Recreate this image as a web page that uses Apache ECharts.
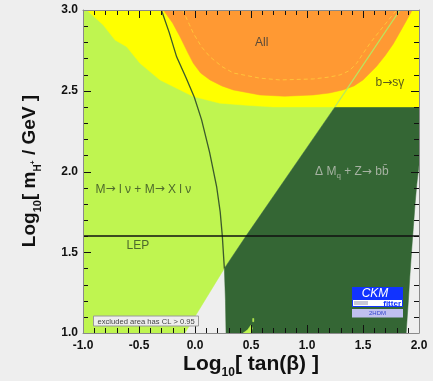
<!DOCTYPE html>
<html>
<head>
<meta charset="utf-8">
<script src="https://cdn.jsdelivr.net/npm/echarts@6/dist/echarts.min.js"></script>
<style>
  html, body { margin: 0; padding: 0; background: #eeeeee; }
  #chart { width: 433px; height: 381px; }
</style>
</head>
<body>
<div id="chart"></div>
<script>
// Axis ranges and tick labels
const xRange = [-1.0, 2.0];
const yRange = [1.0, 3.0];
const xTickLabels = ['-1.0', '-0.5', '0.0', '0.5', '1.0', '1.5', '2.0'];
const yTickLabels = ['1.0', '1.5', '2.0', '2.5', '3.0'];

// Excluded regions, [log10 tan(beta), log10 mH+]
const leptonicRegion = [[-1, 1.0], [-0.09, 1.0], [0.262, 1.40], [0.455, 1.60], [1.25, 2.40], [1.83, 3.0], [-1, 3.0]];
const mixingRegion = [[0.277, 1.0], [0.272, 1.2], [0.262, 1.40], [0.455, 1.60], [1.25, 2.40], [2.0, 2.40],
  [2.0, 2.04], [1.98, 1.92], [1.965, 1.80], [1.95, 1.66], [1.935, 1.52], [1.918, 1.35], [1.905, 1.2], [1.885, 1.0]];
const mixingSpeck = [[0.43, 1.0], [0.47, 1.02], [0.50, 1.05], [0.512, 1.03], [0.50, 1.0]];
const mixingDot = [[0.515, 1.07], [0.525, 1.07], [0.525, 1.09], [0.515, 1.09]];
const bsgRegion = [[-0.967, 3.0], [-0.819, 2.907], [-0.714, 2.814], [-0.61, 2.773], [-0.491, 2.67], [-0.3125, 2.567],
  [-0.164, 2.516], [-0.015, 2.464], [0.223, 2.423], [0.46, 2.41], [0.7, 2.40], [2.0, 2.40], [2.0, 3.0]];
const combinedRegion = [[-0.283, 3.0], [-0.2, 2.92], [-0.134, 2.835], [-0.06, 2.73], [-0.015, 2.67], [0.05, 2.61],
  [0.134, 2.567], [0.24, 2.53], [0.342, 2.505], [0.58, 2.474], [0.8, 2.466], [1.056, 2.474], [1.2, 2.486],
  [1.32, 2.505], [1.42, 2.53], [1.50, 2.567], [1.62, 2.65], [1.70, 2.72], [1.77, 2.79], [1.86, 2.9], [1.94, 3.0]];
const combinedInner = [[-0.11, 3.0], [-0.05, 2.91], [-0.015, 2.856], [0.06, 2.77], [0.134, 2.71], [0.24, 2.65],
  [0.342, 2.61], [0.58, 2.578], [0.759, 2.567], [1.056, 2.573], [1.2, 2.585], [1.295, 2.598], [1.38, 2.625],
  [1.443, 2.67], [1.50, 2.73], [1.5625, 2.794], [1.68, 2.897], [1.80, 3.0]];
const mixingEdge = [[1.25, 2.40], [1.83, 3.0]];
const leptonicEdge = [[-0.30, 3.0], [-0.23, 2.86], [-0.164, 2.71], [-0.08, 2.58], [-0.006, 2.46], [0.059, 2.32],
  [0.13, 2.12], [0.193, 1.907], [0.225, 1.75], [0.244, 1.60], [0.262, 1.40]];
const lepLimit = 1.6;

const FONT = '"Liberation Sans", Arial, Helvetica, sans-serif';
const ARROW_FONT = '"DejaVu Sans", sans-serif';
const measureCtx = document.createElement('canvas').getContext('2d');
function textWidth(str, size, weight, style, family) {
  measureCtx.font = (style || 'normal') + ' ' + (weight || 'normal') + ' ' + size + 'px ' + (family || FONT);
  return measureCtx.measureText(str).width;
}
// Lay out a row of text pieces (each may be shifted vertically for sub/superscripts)
function textRow(pieces, cx, cy, color) {
  const widths = pieces.map(p => textWidth(p.t, p.size, p.weight, p.style, p.family));
  const total = widths.reduce((a, b) => a + b, 0);
  let x = cx - total / 2;
  return pieces.map((p, i) => {
    const el = {
      type: 'text', x: x, y: cy + (p.dy || 0),
      style: {
        text: p.t, fill: p.color || color, fontFamily: p.family || FONT, fontSize: p.size,
        fontWeight: p.weight || 'normal', fontStyle: p.style || 'normal',
        align: 'left', verticalAlign: 'middle'
      }
    };
    x += widths[i];
    return el;
  });
}
const arrow = { t: '\u2192', size: 12, family: ARROW_FONT };

function polygonSeries(pts, color, z) {
  return {
    type: 'custom', silent: true, z: z, clip: true,
    data: [[pts[0][0], pts[0][1]]],
    renderItem: (params, api) => ({
      type: 'polygon',
      shape: { points: pts.map(p => api.coord(p)) },
      style: { fill: color, stroke: color, lineWidth: 0.5 }
    })
  };
}
function lineSeries(pts, color, width, dash, z) {
  return {
    type: 'custom', silent: true, z: z, clip: true,
    data: [[pts[0][0], pts[0][1]]],
    renderItem: (params, api) => ({
      type: 'polyline',
      shape: { points: pts.map(p => api.coord(p)) },
      style: { stroke: color, lineWidth: width, lineDash: dash || null, fill: null }
    })
  };
}
function labelSeries(pos, pieces, color) {
  return {
    type: 'custom', silent: true, z: 20,
    data: [pos],
    renderItem: (params, api) => {
      const c = api.coord(pos);
      return { type: 'group', children: textRow(pieces, c[0], c[1], color) };
    }
  };
}
// Inward-pointing frame ticks on all four sides: every 0.1, longer every 0.5.
// All tick strokes go into one path so they render as a single element.
function frameTicks() {
  return {
    type: 'custom', silent: true, z: 30,
    data: [[0.5, 2.0]],
    renderItem: (params, api) => {
      const segs = [];
      const nx = Math.round((xRange[1] - xRange[0]) / 0.1);
      for (let k = 1; k < nx; k++) {
        const v = xRange[0] + k * 0.1;
        const len = k % 5 === 0 ? 8 : 5;
        const b = api.coord([v, yRange[0]]), t = api.coord([v, yRange[1]]);
        const px = Math.round(b[0]) + 0.5;
        segs.push('M' + px + ' ' + b[1] + 'L' + px + ' ' + (b[1] - len));
        segs.push('M' + px + ' ' + t[1] + 'L' + px + ' ' + (t[1] + len));
      }
      const ny = Math.round((yRange[1] - yRange[0]) / 0.1);
      for (let k = 1; k < ny; k++) {
        const v = yRange[0] + k * 0.1;
        const len = k % 5 === 0 ? 8 : 5;
        const l = api.coord([xRange[0], v]), r = api.coord([xRange[1], v]);
        const py = Math.round(l[1]) + 0.5;
        segs.push('M' + l[0] + ' ' + py + 'L' + (l[0] + len) + ' ' + py);
        segs.push('M' + r[0] + ' ' + py + 'L' + (r[0] - len) + ' ' + py);
      }
      return {
        type: 'path',
        shape: { pathData: segs.join(' ') },
        style: { stroke: '#111', lineWidth: 1, fill: 'none' }
      };
    }
  };
}

const chart = echarts.init(document.getElementById('chart'), null, { renderer: 'canvas' });

const axisCommon = {
  type: 'value', interval: 0.5, z: 40,
  axisLine: { show: true, onZero: false, lineStyle: { color: '#8a8a8a', width: 1 } },
  axisTick: { show: false },
  minorTick: { show: false },
  splitLine: { show: false }
};
const tickLabel = (list, lo) => (v) => list[Math.round((v - lo) / 0.5)] || '';

const option = {
  backgroundColor: '#eeeeee',
  animation: false,
  grid: { left: 83, right: 14, top: 10, bottom: 48 },
  xAxis: [
    Object.assign({}, axisCommon, {
      min: xRange[0], max: xRange[1], position: 'bottom',
      axisLabel: { margin: 7, fontSize: 12, fontWeight: 'bold', color: '#111', fontFamily: FONT,
        formatter: tickLabel(xTickLabels, xRange[0]) }
    }),
    Object.assign({}, axisCommon, {
      min: xRange[0], max: xRange[1], position: 'top', axisLabel: { show: false }
    })
  ],
  yAxis: [
    Object.assign({}, axisCommon, {
      min: yRange[0], max: yRange[1], position: 'left',
      axisLabel: { margin: 5, fontSize: 12, fontWeight: 'bold', color: '#111', fontFamily: FONT,
        formatter: tickLabel(yTickLabels, yRange[0]) }
    }),
    Object.assign({}, axisCommon, {
      min: yRange[0], max: yRange[1], position: 'right', axisLabel: { show: false }
    })
  ],
  series: [
    polygonSeries(leptonicRegion, '#bff550', 1),
    polygonSeries(mixingRegion, '#346634', 2),
    polygonSeries(mixingSpeck, '#bff550', 3),
    polygonSeries(mixingDot, '#bff550', 3),
    polygonSeries(bsgRegion, '#ffff00', 4),
    polygonSeries(combinedRegion, '#ff9933', 5),
    lineSeries(combinedInner, '#ffc43a', 1, [4, 3], 6),
    lineSeries(mixingEdge, '#b8e860', 1.2, null, 7),
    lineSeries(leptonicEdge, '#3b5a2c', 1.3, null, 8),
    lineSeries([[xRange[0], lepLimit], [xRange[1], lepLimit]], '#111', 1.5, null, 9),
    labelSeries([0.595, 2.80], [{ t: 'All', size: 12 }], '#5a4a38'),
    labelSeries([1.74, 2.55], [{ t: 'b', size: 12 }, arrow, { t: 's\u03b3', size: 12 }], '#5c5c1a'),
    labelSeries([-0.46, 1.89], [
      { t: 'M', size: 12 }, arrow, { t: ' l \u03bd + M', size: 12 }, arrow, { t: ' X l \u03bd', size: 12 }
    ], '#4e6a2c'),
    labelSeries([-0.51, 1.54], [{ t: 'LEP', size: 12 }], '#4e6a2c'),
    labelSeries([1.40, 2.0], [
      { t: '\u0394 M', size: 12 }, { t: 'q', size: 8, dy: 4 }, { t: ' + Z', size: 12 }, arrow,
      { t: ' bb\u0304', size: 12 }
    ], '#a6b2a2'),
    frameTicks()
  ],
  graphic: []
};
chart.setOption(option);

// Axis titles, confidence note and the CKMfitter badge
const graphics = [];
graphics.push({
  type: 'group', silent: true,
  children: textRow([
    { t: 'Log', size: 21, weight: 'bold' },
    { t: '10', size: 12, weight: 'bold', dy: 9 },
    { t: '[ tan(\u03b2) ]', size: 21, weight: 'bold' }
  ], 251, 364, '#111')
});
graphics.push({
  type: 'group', silent: true, x: 30, y: 171, rotation: Math.PI / 2,
  children: textRow([
    { t: 'Log', size: 19, weight: 'bold' },
    { t: '10', size: 11, weight: 'bold', dy: 8 },
    { t: '[ m', size: 19, weight: 'bold' },
    { t: 'H', size: 10, weight: 'bold', dy: 8 },
    { t: '+', size: 7, weight: 'bold', dy: 3 },
    { t: ' / GeV ]', size: 19, weight: 'bold' }
  ], 0, 0, '#111')
});
graphics.push({
  type: 'rect', silent: true, shape: { x: 93.5, y: 316, width: 105, height: 10 },
  style: { fill: '#eeeeee', stroke: '#9a9a9a', lineWidth: 1 }, z: 70
});
graphics.push({
  type: 'text', silent: true, x: 97.5, y: 321.5, z: 71,
  style: { text: 'excluded area has CL > 0.95', fontFamily: FONT, fontSize: 7.6, fill: '#444',
    align: 'left', verticalAlign: 'middle' }
});
graphics.push({
  type: 'rect', silent: true, shape: { x: 352, y: 287, width: 51, height: 12 },
  style: { fill: '#1133ff' }, z: 70
});
graphics.push({
  type: 'text', silent: true, x: 375, y: 293.5, z: 71,
  style: { text: 'CKM', fontFamily: FONT, fontSize: 12, fontStyle: 'italic', fill: '#ffffff',
    align: 'center', verticalAlign: 'middle' }
});
graphics.push({
  type: 'rect', silent: true, shape: { x: 352.5, y: 299.5, width: 50, height: 7 },
  style: { fill: '#ffffff', stroke: '#1133ff', lineWidth: 1 }, z: 70
});
graphics.push({
  type: 'rect', silent: true, shape: { x: 354, y: 301, width: 14, height: 4 },
  style: { fill: '#c8c8d8' }, z: 71
});
graphics.push({
  type: 'text', silent: true, x: 401, y: 303.5, z: 71,
  style: { text: 'fitter', fontFamily: FONT, fontSize: 8, fontWeight: 'bold', fill: '#1133ff',
    align: 'right', verticalAlign: 'middle' }
});
graphics.push({
  type: 'rect', silent: true, shape: { x: 352, y: 309, width: 51, height: 8.5 },
  style: { fill: '#c0c0f0' }, z: 70
});
graphics.push({
  type: 'text', silent: true, x: 377.5, y: 313.5, z: 71,
  style: { text: '2HDM', fontFamily: FONT, fontSize: 6, fill: '#3344cc',
    align: 'center', verticalAlign: 'middle' }
});
chart.setOption({ graphic: graphics });
</script>
</body>
</html>
